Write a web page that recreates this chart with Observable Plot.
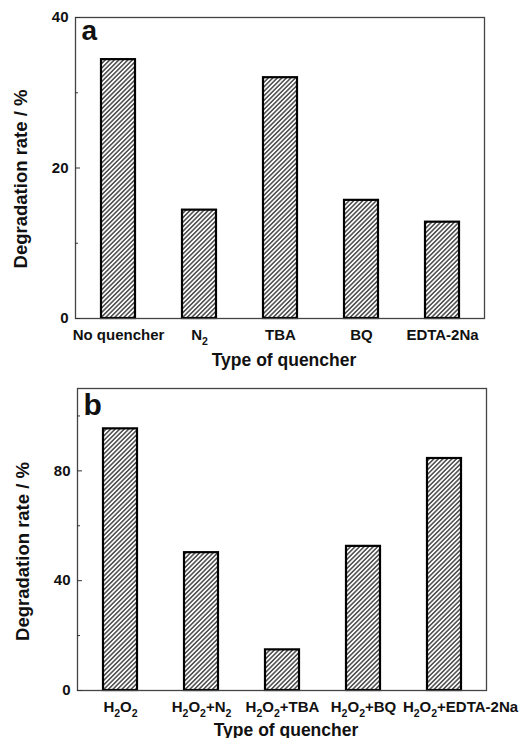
<!DOCTYPE html>
<html>
<head>
<meta charset="utf-8">
<script src="https://cdn.jsdelivr.net/npm/d3@7"></script>
<script src="https://cdn.jsdelivr.net/npm/@observablehq/plot@0.6"></script>
<style>
  html, body { margin: 0; padding: 0; background: #fff; }
  #chart svg { display: block; }
</style>
</head>
<body>
<div id="chart"></div>
<script>
// ---- data ----
const catsA = ["No quencher", "N₂", "TBA", "BQ", "EDTA-2Na"];
const valsA = [34.4, 14.4, 32.0, 15.7, 12.8];
const catsB = ["H₂O₂", "H₂O₂+N₂", "H₂O₂+TBA", "H₂O₂+BQ", "H₂O₂+EDTA-2Na"];
const valsB = [95.3, 50.2, 14.8, 52.5, 84.5];
const majorTicksA = [0, 20, 40];
const minorTicksA = [10, 30];
const majorTicksB = [0, 40, 80];
const minorTicksB = [20, 60, 100];
const domainA = [0, 40];
const domainB = [0, 110];
const xTitle = "Type of quencher";
const yTitle = "Degradation rate / %";
const panelA = "a";
const panelB = "b";

const dataA = catsA.map((c, i) => ({cat: c, val: valsA[i]}));
const dataB = catsB.map((c, i) => ({cat: c, val: valsB[i]}));

const baseStyle = {
  fontFamily: "'Liberation Sans', Arial, Helvetica, sans-serif",
  fontWeight: "bold",
  fontSize: "15px",
  color: "#111",
  background: "#fff",
  overflow: "visible"
};

function addHatch(svg, id) {
  const defs = d3.select(svg).insert("defs", ":first-child");
  const p = defs.append("pattern")
    .attr("id", id)
    .attr("patternUnits", "userSpaceOnUse")
    .attr("width", 3.2).attr("height", 3.2)
    .attr("patternTransform", "rotate(45)");
  p.append("rect").attr("width", 3.2).attr("height", 3.2).attr("fill", "#fff");
  p.append("line").attr("x1", 1.6).attr("y1", 0).attr("x2", 1.6).attr("y2", 3.2)
    .attr("stroke", "#1a1a1a").attr("stroke-width", 1.2);
}

function subscripts(svg, shifts) {
  d3.select(svg).selectAll('[aria-label="x-axis tick label"] text').each(function () {
    const s = this.textContent;
    if (shifts && shifts[s] != null) this.setAttribute("dx", shifts[s]);
    if (!/[\u2080-\u2089]/.test(s)) return;
    const el = d3.select(this);
    el.text(null);
    let sub = false;
    for (const part of s.split(/([\u2080-\u2089]+)/)) {
      if (!part) continue;
      const isSub = /[\u2080-\u2089]/.test(part);
      const t = el.append("tspan");
      if (isSub) {
        t.attr("font-size", 10.5).attr("dy", sub ? 0 : 5)
          .text([...part].map(c => String.fromCharCode(c.charCodeAt(0) - 0x2080 + 48)).join(""));
        sub = true;
      } else {
        t.attr("dy", sub ? -5 : 0).text(part);
        sub = false;
      }
    }
  });
}

function panel({data, cats, domain, major, minor, label, hatchId, height, mt, mb, ml, mr, xdy, ydy, ldx, ldy, lfs, shifts}) {
  const svg = Plot.plot({
    width: 523,
    height,
    marginTop: mt,
    marginBottom: mb,
    marginLeft: ml,
    marginRight: mr,
    style: baseStyle,
    x: {domain: cats, paddingInner: 0.585, paddingOuter: 0.2925, axis: null},
    y: {domain, axis: null},
    marks: [
      Plot.barY(data, {x: "cat", y: "val", fill: `url(#${hatchId})`, stroke: "#000", strokeWidth: 2.2}),
      Plot.frame({stroke: "#444", strokeWidth: 1.3}),
      Plot.axisY({ticks: major, tickSize: 0, tickPadding: 7, label: null, fontSize: 15}),
      Plot.axisY({ticks: major, tickSize: -5, tickFormat: () => "", label: null, stroke: "#333"}),
      Plot.axisY({ticks: minor, tickSize: -3, tickFormat: () => "", label: null, stroke: "#333"}),
      Plot.axisX({tickSize: 0, tickPadding: 11, label: null, fontSize: 15}),
      Plot.text([xTitle], {frameAnchor: "bottom", dy: xdy, dx: 4, lineAnchor: "bottom", textAnchor: "middle", fontSize: 17.5, fontWeight: "bold"}),
      Plot.text([yTitle], {frameAnchor: "left", rotate: -90, dx: -54, dy: ydy, textAnchor: "middle", lineAnchor: "middle", fontSize: 18.5, fontWeight: "bold"}),
      Plot.text([label], {frameAnchor: "top-left", dx: ldx, dy: ldy, lineAnchor: "top", textAnchor: "start", fontSize: lfs, fontWeight: "bold"})
    ]
  });
  addHatch(svg, hatchId);
  subscripts(svg, shifts);
  return svg;
}

const chart = document.getElementById("chart");
chart.appendChild(panel({
  data: dataA, cats: catsA, domain: domainA, major: majorTicksA, minor: minorTicksA,
  label: panelA, hatchId: "hatchA", height: 370, mt: 17, mb: 52, ml: 75, mr: 39,
  xdy: 47, ydy: 11, ldx: 6, ldy: 3, lfs: 28, shifts: {"BQ": 0}
}));
chart.appendChild(panel({
  data: dataB, cats: catsB, domain: domainB, major: majorTicksB, minor: minorTicksB,
  label: panelB, hatchId: "hatchB", height: 368, mt: 18, mb: 48, ml: 77, mr: 37,
  xdy: 45, ydy: 12, ldx: 6, ldy: 5.5, lfs: 30, shifts: {"H₂O₂+EDTA-2Na": 16}
}));
</script>
</body>
</html>
